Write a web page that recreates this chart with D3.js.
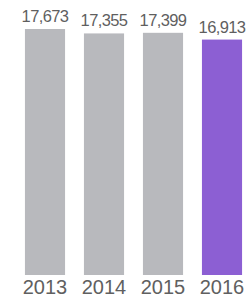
<!DOCTYPE html>
<html>
<head>
<meta charset="utf-8">
<script src="https://cdn.jsdelivr.net/npm/d3@7"></script>
<style>
  body { margin: 0; background: #fff; }
  text { font-family: "Liberation Sans", Arial, sans-serif; }
</style>
</head>
<body>
<svg width="250" height="301"></svg>
<script>
// DATA
var years = ["2013", "2014", "2015", "2016"];
var values = [17673, 17355, 17399, 16913];
var labels = ["17,673", "17,355", "17,399", "16,913"];

var svg = d3.select("svg"),
    width = +svg.attr("width"),
    height = +svg.attr("height");

var x = d3.scaleBand()
    .domain(years)
    .range([15.5, 251.5])
    .paddingInner(0.32)
    .paddingOuter(0.16);

var y = d3.scaleLinear()
    .domain([0, 17673])
    .range([275, 29]);

var data = years.map(function(d, i) { return {year: d, value: values[i], label: labels[i]}; });

// bars
svg.append("g").selectAll("rect")
    .data(data)
  .enter().append("rect")
    .attr("x", function(d) { return x(d.year); })
    .attr("y", function(d) { return y(d.value); })
    .attr("width", x.bandwidth())
    .attr("height", function(d) { return y(0) - y(d.value); })
    .attr("fill", function(d, i) { return i == data.length - 1 ? "#8c5fd3" : "#b8b9bd"; });

// value labels
svg.append("g").selectAll("text")
    .data(data)
  .enter().append("text")
    .attr("x", function(d) { return x(d.year) + x.bandwidth() / 2; })
    .attr("y", function(d) { return y(d.value) - 7; })
    .attr("text-anchor", "middle")
    .attr("font-size", "16.5px")
    .attr("letter-spacing", "-0.6px")
    .attr("fill", "#5f5f5f")
    .text(function(d) { return d.label; });

// year axis (no line, no ticks)
var axis = svg.append("g")
    .attr("transform", "translate(0,275)")
    .call(d3.axisBottom(x).tickSize(0).tickPadding(19));
axis.select(".domain").remove();
axis.selectAll("text")
    .attr("font-size", "20px")
    .attr("font-family", "'Liberation Sans', Arial, sans-serif")
    .attr("fill", "#606060")
    .attr("dy", 0);
</script>
</body>
</html>
